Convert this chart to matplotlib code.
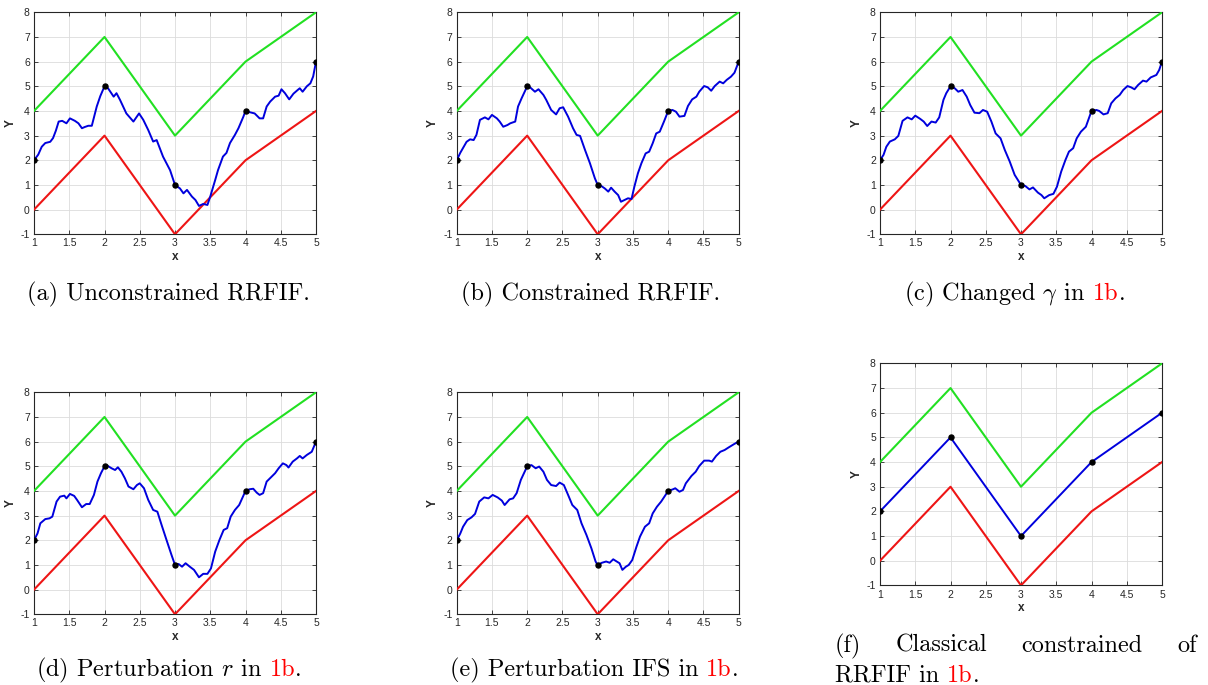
import matplotlib
matplotlib.use("Agg")
import matplotlib.pyplot as plt

W, H = 1208, 685

# interpolation knots and the two bounding polylines (same in every panel)
x_knots = [1, 2, 3, 4, 5]
y_knots = [2, 5, 1, 4, 6]
y_upper = [4, 7, 3, 6, 8]
y_lower = [0, 3, -1, 2, 4]

# (a) unconstrained RRFIF
xa = [1.00, 1.06, 1.11, 1.16, 1.23, 1.27, 1.31, 1.35, 1.40, 1.46, 1.51, 1.58, 1.63, 1.68,
      1.72, 1.77, 1.82, 1.89, 1.94, 2.00, 2.05, 2.13, 2.17, 2.22, 2.31, 2.41, 2.49, 2.55,
      2.62, 2.69, 2.74, 2.83, 2.93, 3.00, 3.07, 3.12, 3.17, 3.24, 3.29, 3.34, 3.40, 3.46,
      3.50, 3.57, 3.61, 3.68, 3.73, 3.78, 3.85, 3.90, 3.97, 4.00, 4.06, 4.13, 4.20, 4.25,
      4.30, 4.35, 4.42, 4.47, 4.51, 4.56, 4.62, 4.68, 4.74, 4.77, 4.81, 4.87, 4.92, 4.96, 5.00]
ya = [2.00, 2.23, 2.55, 2.70, 2.75, 2.90, 3.20, 3.57, 3.60, 3.50, 3.70, 3.60, 3.50, 3.30,
      3.35, 3.40, 3.40, 4.18, 4.60, 5.00, 4.92, 4.58, 4.72, 4.45, 3.90, 3.57, 3.90, 3.64,
      3.23, 2.76, 2.82, 2.15, 1.60, 1.00, 0.86, 0.66, 0.80, 0.53, 0.39, 0.15, 0.23, 0.19,
      0.53, 1.20, 1.60, 2.15, 2.30, 2.70, 3.03, 3.30, 3.77, 4.00, 3.95, 3.90, 3.70, 3.70,
      4.18, 4.38, 4.58, 4.62, 4.88, 4.72, 4.47, 4.70, 4.85, 4.92, 4.78, 5.00, 5.12, 5.40, 6.00]

# (b) constrained RRFIF
xb = [1.00, 1.05, 1.09, 1.14, 1.19, 1.24, 1.28, 1.33, 1.40, 1.45, 1.50, 1.57, 1.61, 1.66,
      1.72, 1.76, 1.83, 1.87, 1.92, 2.00, 2.04, 2.11, 2.16, 2.23, 2.27, 2.34, 2.41, 2.46,
      2.51, 2.58, 2.65, 2.70, 2.75, 2.82, 2.89, 2.96, 3.00, 3.05, 3.10, 3.15, 3.19, 3.24,
      3.29, 3.33, 3.38, 3.43, 3.48, 3.52, 3.57, 3.62, 3.68, 3.73, 3.78, 3.83, 3.88, 3.94,
      4.00, 4.06, 4.11, 4.16, 4.23, 4.28, 4.34, 4.40, 4.44, 4.51, 4.56, 4.61, 4.66, 4.73,
      4.78, 4.83, 4.89, 4.94, 5.00]
yb = [2.00, 2.30, 2.50, 2.75, 2.85, 2.82, 3.03, 3.64, 3.74, 3.66, 3.84, 3.70, 3.57, 3.36,
      3.43, 3.50, 3.57, 4.18, 4.51, 5.00, 4.96, 4.78, 4.88, 4.65, 4.45, 4.04, 3.86, 4.11,
      4.15, 3.77, 3.30, 3.03, 2.99, 2.42, 1.88, 1.27, 1.00, 0.96, 0.86, 0.73, 0.89, 0.73,
      0.59, 0.32, 0.39, 0.46, 0.43, 0.93, 1.47, 1.88, 2.28, 2.35, 2.69, 3.09, 3.16, 3.57,
      4.00, 4.04, 3.97, 3.77, 3.80, 4.20, 4.47, 4.58, 4.78, 5.01, 4.96, 4.82, 5.01, 5.19,
      5.12, 5.26, 5.39, 5.55, 6.00]

# (c) changed gamma
xc = [1.00, 1.05, 1.09, 1.14, 1.21, 1.26, 1.32, 1.39, 1.45, 1.50, 1.57, 1.62, 1.67, 1.73,
      1.79, 1.84, 1.90, 1.94, 2.00, 2.06, 2.11, 2.17, 2.23, 2.28, 2.34, 2.41, 2.46, 2.52,
      2.58, 2.64, 2.71, 2.77, 2.84, 2.91, 3.00, 3.06, 3.12, 3.17, 3.24, 3.29, 3.33, 3.40,
      3.46, 3.51, 3.57, 3.63, 3.68, 3.74, 3.79, 3.85, 3.92, 4.00, 4.07, 4.11, 4.17, 4.23,
      4.28, 4.34, 4.40, 4.45, 4.51, 4.56, 4.61, 4.66, 4.73, 4.78, 4.84, 4.92, 4.96, 5.00]
yc = [2.00, 2.22, 2.55, 2.76, 2.85, 2.99, 3.60, 3.74, 3.66, 3.81, 3.68, 3.57, 3.39, 3.57,
      3.53, 3.74, 4.45, 4.72, 5.00, 4.92, 4.78, 4.85, 4.58, 4.24, 3.93, 3.91, 4.04, 3.97,
      3.57, 3.09, 2.89, 2.42, 1.95, 1.41, 1.00, 0.96, 0.82, 0.90, 0.69, 0.59, 0.46, 0.59,
      0.64, 0.93, 1.54, 2.01, 2.35, 2.49, 2.89, 3.16, 3.36, 4.00, 4.04, 4.00, 3.86, 3.91,
      4.31, 4.51, 4.65, 4.85, 5.01, 4.96, 4.88, 5.05, 5.23, 5.19, 5.36, 5.46, 5.66, 6.00]

# (d) perturbation r
xd = [1.00, 1.05, 1.09, 1.16, 1.22, 1.26, 1.32, 1.37, 1.43, 1.46, 1.51, 1.57, 1.61, 1.68,
      1.74, 1.79, 1.85, 1.90, 1.95, 2.00, 2.05, 2.10, 2.15, 2.19, 2.24, 2.29, 2.34, 2.41,
      2.46, 2.50, 2.56, 2.62, 2.69, 2.75, 2.81, 2.88, 2.95, 3.00, 3.05, 3.10, 3.15, 3.21,
      3.27, 3.34, 3.40, 3.46, 3.51, 3.57, 3.63, 3.69, 3.74, 3.79, 3.85, 3.91, 4.00, 4.06,
      4.11, 4.16, 4.20, 4.25, 4.30, 4.36, 4.42, 4.47, 4.53, 4.58, 4.61, 4.67, 4.73, 4.77,
      4.81, 4.87, 4.94, 5.00]
yd = [2.00, 2.28, 2.69, 2.86, 2.89, 2.96, 3.57, 3.77, 3.81, 3.70, 3.88, 3.80, 3.64, 3.34,
      3.47, 3.47, 3.84, 4.38, 4.72, 5.00, 5.01, 4.92, 4.85, 4.96, 4.78, 4.51, 4.18, 4.07,
      4.24, 4.31, 4.11, 3.64, 3.23, 3.16, 2.62, 2.01, 1.41, 1.00, 1.04, 0.93, 1.07, 0.93,
      0.80, 0.50, 0.64, 0.64, 0.86, 1.54, 2.01, 2.42, 2.49, 2.96, 3.23, 3.43, 4.00, 4.07,
      4.09, 3.93, 3.84, 3.91, 4.38, 4.55, 4.72, 4.92, 5.12, 5.05, 4.95, 5.19, 5.32, 5.42,
      5.32, 5.46, 5.59, 6.00]

# (e) perturbation IFS
xe = [1.00, 1.05, 1.09, 1.15, 1.21, 1.26, 1.32, 1.39, 1.45, 1.51, 1.58, 1.64, 1.68, 1.75,
      1.80, 1.85, 1.91, 2.00, 2.06, 2.12, 2.17, 2.23, 2.28, 2.34, 2.41, 2.46, 2.52, 2.58,
      2.64, 2.71, 2.77, 2.84, 2.91, 2.97, 3.00, 3.06, 3.12, 3.17, 3.22, 3.27, 3.31, 3.35,
      3.40, 3.44, 3.49, 3.55, 3.60, 3.67, 3.73, 3.78, 3.84, 3.90, 4.00, 4.07, 4.10, 4.16,
      4.21, 4.25, 4.33, 4.39, 4.44, 4.51, 4.58, 4.62, 4.68, 4.74, 4.80, 4.86, 4.94, 5.00]
ye = [2.00, 2.27, 2.55, 2.82, 2.93, 3.07, 3.57, 3.74, 3.70, 3.84, 3.74, 3.61, 3.43, 3.66,
      3.70, 3.91, 4.45, 5.00, 5.05, 4.92, 4.99, 4.78, 4.45, 4.24, 4.20, 4.34, 4.24, 3.84,
      3.43, 3.23, 2.69, 2.22, 1.68, 1.14, 1.00, 1.09, 1.14, 1.09, 1.23, 1.14, 1.07, 0.80,
      0.93, 1.00, 1.20, 1.74, 2.15, 2.55, 2.69, 3.09, 3.36, 3.57, 4.00, 4.07, 4.11, 3.97,
      4.04, 4.31, 4.61, 4.78, 5.01, 5.23, 5.23, 5.19, 5.42, 5.59, 5.66, 5.77, 5.91, 6.00]

x_ticks = [1, 1.5, 2, 2.5, 3, 3.5, 4, 4.5, 5]
x_ticklabels = ["1", "1.5", "2", "2.5", "3", "3.5", "4", "4.5", "5"]
y_ticks = [-1, 0, 1, 2, 3, 4, 5, 6, 7, 8]

GREEN = "#22e022"
RED = "#ee1515"
BLUE = "#0000dd"
TXT = "#262626"

plt.rcParams["axes.unicode_minus"] = False
plt.rcParams["mathtext.fontset"] = "cm"
plt.rcParams["font.family"] = ["Liberation Sans", "DejaVu Sans"]

fig = plt.figure(figsize=(W / 100, H / 100), dpi=100)


def add_panel(left, top, xs, ys):
    """One MATLAB-looking panel, box given in pixels from the top left."""
    w, h = 282, 222
    ax = fig.add_axes([left / W, 1 - (top + h) / H, w / W, h / H])
    ax.plot(x_knots, y_upper, color=GREEN, lw=1.5, zorder=3)
    ax.plot(x_knots, y_lower, color=RED, lw=1.5, zorder=3)
    ax.plot(xs, ys, color=BLUE, lw=1.4, zorder=4)
    ax.plot(x_knots, y_knots, "o", color="black", ms=3.6, zorder=5)
    ax.set_xlim(1, 5)
    ax.set_ylim(-1, 8)
    ax.set_xticks(x_ticks)
    ax.set_xticklabels(x_ticklabels)
    ax.set_yticks(y_ticks)
    ax.grid(True, color="#dcdcdc", lw=0.6)
    ax.set_axisbelow(True)
    ax.tick_params(direction="in", top=True, right=True, length=3, width=0.6,
                   labelsize=7.5, colors=TXT, pad=3)
    for s in ax.spines.values():
        s.set_color(TXT)
        s.set_linewidth(0.8)
    ax.set_xlabel("x", fontsize=8.5, fontweight="bold", color=TXT, labelpad=2)
    ax.set_ylabel("Y", fontsize=8.5, fontweight="bold", color=TXT, labelpad=3)
    return ax


add_panel(34, 12.3, xa, ya)
add_panel(456.7, 12.3, xb, yb)
add_panel(880, 12.3, xc, yc)
add_panel(34, 392.3, xd, yd)
add_panel(456.7, 392.3, xe, ye)
add_panel(880, 363.4, x_knots, y_knots)

cap = dict(family="cmr10", fontsize=17.5, va="baseline")
renderer = fig.canvas.get_renderer()


def text_width(s):
    t = fig.text(0, 0, s, **cap)
    w = t.get_window_extent(renderer).width
    t.remove()
    return w


def caption(cx, base_px, prefix, red=None, left_px=None):
    """Caption centred on cx (pixels); a red '1b' reference when asked."""
    y = 1 - base_px / H
    if red is None:
        fig.text(cx / W, y, prefix, ha="center", color="black", **cap)
        return
    total = text_width(prefix + red + ".")
    x0 = cx - total / 2 if left_px is None else left_px
    fig.text(x0 / W, y, prefix, ha="left", color="black", **cap)
    xr = x0 + text_width(prefix + red)
    fig.text(xr / W, y, red, ha="right", color="red", **cap)
    fig.text(xr / W, y, ".", ha="left", color="black", **cap)


caption(168, 300.5, "(a) Unconstrained RRFIF.")
caption(591, 300.5, "(b) Constrained RRFIF.")
caption(1014, 300.5, r"(c) Changed $\gamma$ in ", "1b")
caption(168, 676, r"(d) Perturbation $r$ in ", "1b")
caption(594, 676, "(e) Perturbation IFS in ", "1b")

# (f) is a justified two-line caption
yf = 1 - 652 / H
fig.text(835 / W, yf, "(f)", ha="left", **cap)
fig.text(896 / W, yf, "Classical", ha="left", **cap)
fig.text(1021 / W, yf, "constrained", ha="left", **cap)
fig.text(1197 / W, yf, "of", ha="right", **cap)
caption(0, 682, "RRFIF in ", "1b", left_px=835)

fig.savefig("out.png", dpi=100)
